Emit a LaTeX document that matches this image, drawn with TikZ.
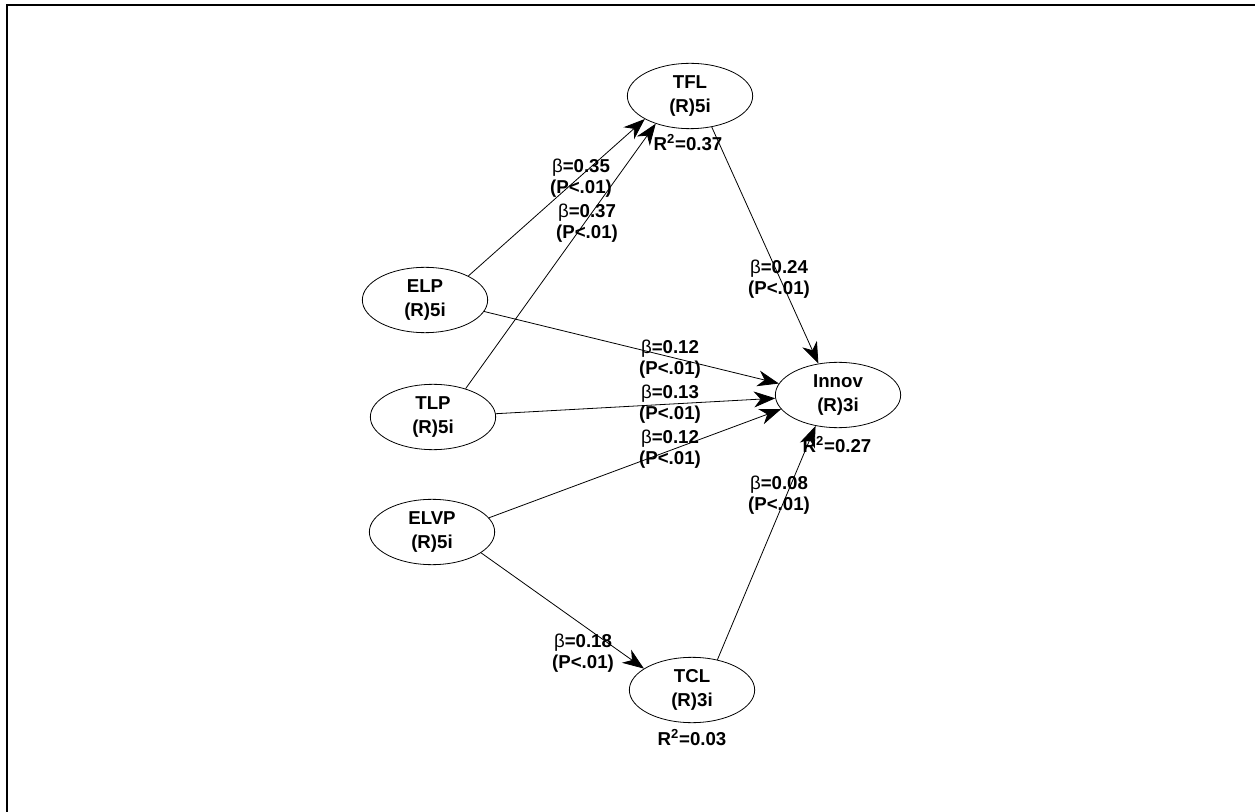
\documentclass[tikz,border=0pt]{standalone}
\usepackage{fontspec}
\setmainfont{Liberation Sans}
\usetikzlibrary{shapes.geometric, arrows.meta}

\tikzset{
  latent/.style={draw, ellipse, line width=0.6pt, minimum width=94pt, minimum height=49pt, inner sep=0pt, align=center, font=\bfseries\fontsize{14}{18}\selectfont},
  effect/.style={draw, line width=0.6pt, -{Stealth[length=16pt,width=12pt,inset=5pt]}},
  coef/.style={align=center, inner sep=0pt, font=\bfseries\fontsize{14}{16}\selectfont},
  rsq/.style={inner sep=0pt, font=\bfseries\fontsize{14}{16}\selectfont}
}
\newcommand{\bt}{{\mdseries β}}

\begin{document}
\begin{tikzpicture}[x=0.75pt,y=0.75pt,yscale=-1,xscale=1]
\useasboundingbox (0,0) rectangle (1255,812);

%Frame
\draw [line width=1.5pt] (7,812) -- (7,5) -- (1255,5);

%Constructs
\node [latent] (tfl) at (690,96) {TFL\\(R)5i};
\node [latent] (elp) at (425,300) {ELP\\(R)5i};
\node [latent] (tlp) at (433,417) {TLP\\(R)5i};
\node [latent] (elvp) at (432,532) {ELVP\\(R)5i};
\node [latent] (innov) at (838,395) {Innov\\(R)3i};
\node [latent] (tcl) at (692,690) {TCL\\(R)3i};

%R squared
\node [rsq] (tflr) at (688,143) {R\textsuperscript{2}=0.37};
\node [rsq] (innovr) at (837,445) {R\textsuperscript{2}=0.27};
\node [rsq] (tclr) at (692,738) {R\textsuperscript{2}=0.03};

%Paths
\draw [effect] (elp.29) -- (tfl.207);
\draw [effect] (tlp.41) -- (tfl.219);
\draw [effect] (tfl.305) -- (innov.122);
\draw [effect] (elp.349) -- (innov.169);
\draw [effect] (tlp.3) -- (innov.183);
\draw [effect] (elvp.14) -- (innov.194);
\draw [effect] (elvp.337) -- (tcl.156);
\draw [effect] (tcl.50) -- (innov.234);

%Coefficients
\node [coef] (c1) at (581,178) {\bt=0.35\\(P<.01)};
\node [coef] (c2) at (587,223) {\bt=0.37\\(P<.01)};
\node [coef] (c3) at (779,279) {\bt=0.24\\(P<.01)};
\node [coef] (c4) at (670,359) {\bt=0.12\\(P<.01)};
\node [coef] (c5) at (670,404) {\bt=0.13\\(P<.01)};
\node [coef] (c6) at (670,449) {\bt=0.12\\(P<.01)};
\node [coef] (c7) at (583,653) {\bt=0.18\\(P<.01)};
\node [coef] (c8) at (779,495) {\bt=0.08\\(P<.01)};

\end{tikzpicture}
\end{document}
